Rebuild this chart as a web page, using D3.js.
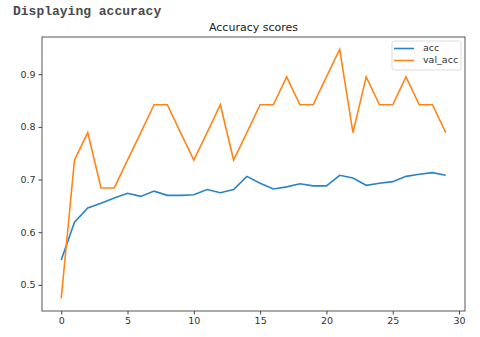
<!DOCTYPE html>
<html>
<head>
<meta charset="utf-8">
<script src="https://cdn.jsdelivr.net/npm/d3@7"></script>
<style>
  body { margin: 0; background: #fff; }
  .axis text { font-family: "DejaVu Sans", sans-serif; font-size: 9.5px; fill: #333; }
  .axis path, .axis line { stroke: #444; }
</style>
</head>
<body>
<div id="chart"></div>
<script>
// epochs and the two history series
var epochs = d3.range(0, 30);
var acc = [0.547, 0.619, 0.646, 0.655, 0.665, 0.674, 0.668, 0.678, 0.670, 0.670,
           0.671, 0.681, 0.675, 0.681, 0.706, 0.693, 0.682, 0.686, 0.692, 0.688,
           0.688, 0.708, 0.703, 0.689, 0.693, 0.696, 0.706, 0.710, 0.713, 0.708];
var valAcc = [0.474, 0.737, 0.789, 0.684, 0.684, 0.737, 0.789, 0.842, 0.842, 0.789,
              0.737, 0.789, 0.842, 0.737, 0.789, 0.842, 0.842, 0.895, 0.842, 0.842,
              0.895, 0.947, 0.789, 0.895, 0.842, 0.842, 0.895, 0.842, 0.842, 0.789];
var xTicks = [0, 5, 10, 15, 20, 25, 30];
var yTicks = [0.5, 0.6, 0.7, 0.8, 0.9];
var seriesNames = ["acc", "val_acc"];
var colors = ["#2a84c4", "#ff8516"];

var W = 480, H = 337;
var margin = { top: 37, right: 15, bottom: 26, left: 42 };
var width = W - margin.left - margin.right,
    height = H - margin.top - margin.bottom;

var svg = d3.select("#chart").append("svg")
    .attr("width", W)
    .attr("height", H);

// notebook heading
svg.append("text")
    .attr("x", 13)
    .attr("y", 15)
    .attr("font-family", "Liberation Mono, monospace")
    .attr("font-weight", "bold")
    .attr("font-size", 13)
    .attr("fill", "#4a4a4a")
    .text("Displaying accuracy");

var g = svg.append("g")
    .attr("transform", "translate(" + margin.left + "," + margin.top + ")");

// matplotlib style 5% margins
var allY = acc.concat(valAcc);
var yMin = d3.min(allY), yMax = d3.max(allY);
var yPad = (yMax - yMin) * 0.05;
var x = d3.scaleLinear()
    .domain([-29 * 0.05, 29 * 1.05])
    .range([0, width]);
var y = d3.scaleLinear()
    .domain([yMin - yPad, yMax + yPad])
    .range([height, 0]);

g.append("g")
    .attr("class", "axis")
    .attr("transform", "translate(0," + height + ")")
    .call(d3.axisBottom(x).tickValues(xTicks).tickSize(3.5).tickPadding(3).tickFormat(d3.format("d")))
    .call(function(a) { a.select(".domain").remove(); });

g.append("g")
    .attr("class", "axis")
    .call(d3.axisLeft(y).tickValues(yTicks).tickSize(3.5).tickPadding(3).tickFormat(d3.format(".1f")))
    .call(function(a) { a.select(".domain").remove(); });

// frame
g.append("rect")
    .attr("width", width)
    .attr("height", height)
    .attr("fill", "none")
    .attr("stroke", "#444")
    .attr("stroke-width", 0.9);

var line = d3.line()
    .x(function(d, i) { return x(epochs[i]); })
    .y(function(d) { return y(d); });

[acc, valAcc].forEach(function(s, i) {
  g.append("path")
      .datum(s)
      .attr("fill", "none")
      .attr("stroke", colors[i])
      .attr("stroke-width", 1.6)
      .attr("d", line);
});

// title
g.append("text")
    .attr("x", width / 2)
    .attr("y", -6)
    .attr("text-anchor", "middle")
    .attr("font-family", "DejaVu Sans, sans-serif")
    .attr("font-size", 11)
    .attr("fill", "#222")
    .text("Accuracy scores");

// legend
var lg = g.append("g")
    .attr("transform", "translate(" + (width - 73) + ",4)");
lg.append("rect")
    .attr("width", 69)
    .attr("height", 29)
    .attr("rx", 2)
    .attr("fill", "#fff")
    .attr("fill-opacity", 0.8)
    .attr("stroke", "#ddd");
seriesNames.forEach(function(n, i) {
  lg.append("line")
      .attr("x1", 2).attr("x2", 22)
      .attr("y1", 7.5 + i * 12).attr("y2", 7.5 + i * 12)
      .attr("stroke", colors[i])
      .attr("stroke-width", 1.6);
  lg.append("text")
      .attr("x", 31)
      .attr("y", 7 + i * 12)
      .attr("dy", "0.35em")
      .attr("font-family", "DejaVu Sans, sans-serif")
      .attr("font-size", 9.5)
      .attr("fill", "#333")
      .text(n);
});
</script>
</body>
</html>
